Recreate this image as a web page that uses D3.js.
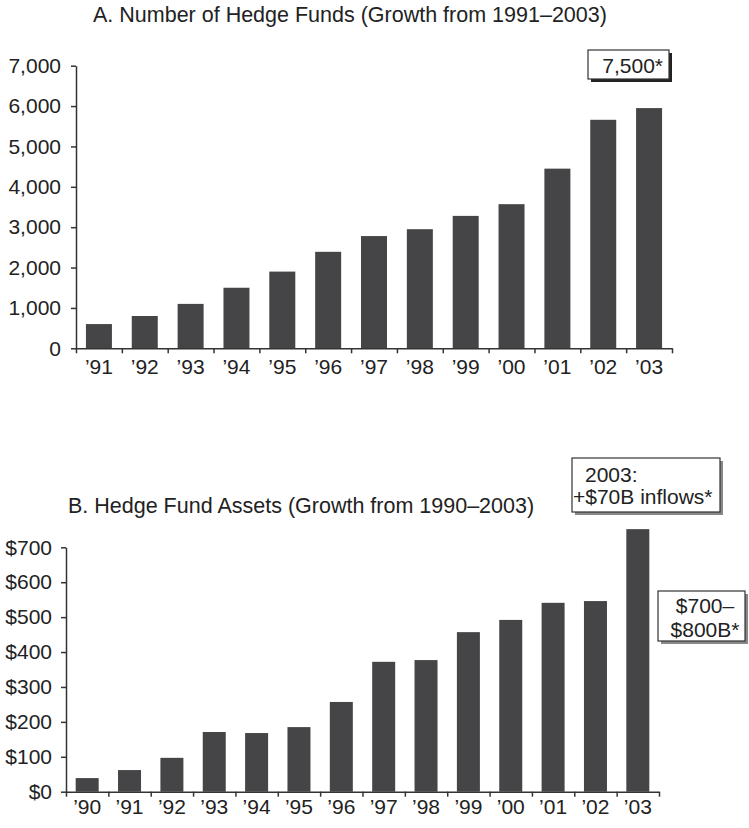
<!DOCTYPE html>
<html><head><meta charset="utf-8">
<script src="https://cdn.jsdelivr.net/npm/d3@7/dist/d3.min.js"></script>
<style>
body{margin:0;background:#fff}
text{font-family:"Liberation Sans",Arial,Helvetica,sans-serif;fill:#222}
</style>
</head><body>
<svg id="c" width="749" height="828"></svg>
<script>
// ---- data ----
const fundYears = ["\u201991","\u201992","\u201993","\u201994","\u201995","\u201996","\u201997","\u201998","\u201999","\u201900","\u201901","\u201902","\u201903"];
const fundCounts = [600, 800, 1100, 1500, 1900, 2390, 2780, 2950, 3280, 3570, 4450, 5660, 5950];
const fundTicks = [0, 1000, 2000, 3000, 4000, 5000, 6000, 7000];

const assetYears = ["\u201990","\u201991","\u201992","\u201993","\u201994","\u201995","\u201996","\u201997","\u201998","\u201999","\u201900","\u201901","\u201902","\u201903"];
const assetValues = [39, 62, 97, 171, 168, 185, 257, 372, 377, 457, 492, 541, 546, 752];
const assetTicks = [0, 100, 200, 300, 400, 500, 600, 700];

const titleA = "A. Number of Hedge Funds (Growth from 1991\u20132003)";
const titleB = "B. Hedge Fund Assets (Growth from 1990\u20132003)";
const noteA = ["7,500*"];
const noteB1 = ["2003:", "+$70B inflows*"];
const noteB2 = ["$700\u2013", "$800B*"];

// ---- drawing ----
const svg = d3.select("#c");
const FS = 21;
const TFS = 21.5;
const BAR = "#454547";
const AX = "#333";

function panel(o) {
  const g = svg.append("g");
  const x = d3.scaleBand().domain(o.years).range([o.x0, o.x1])
    .paddingInner(o.pad).paddingOuter(o.pad / 2);
  const y = d3.scaleLinear().domain([0, o.max]).range([o.yb, o.yt]);

  g.selectAll("rect.bar").data(o.values).join("rect").attr("class", "bar")
    .attr("x", (d, i) => x(o.years[i])).attr("width", x.bandwidth())
    .attr("y", d => y(d)).attr("height", d => y(0) - y(d)).attr("fill", BAR);

  // y axis
  const ya = g.append("g").attr("transform", `translate(${o.x0},0)`)
    .call(d3.axisLeft(y).tickValues(o.ticks).tickSize(5).tickSizeOuter(0).tickFormat(o.fmt));
  ya.select(".domain").attr("stroke", AX).attr("stroke-width", 1.5);
  ya.selectAll(".tick line").attr("stroke", AX).attr("stroke-width", 1.5);
  ya.selectAll(".tick text").attr("x", -o.ylab).attr("font-size", FS)
    .attr("font-family", null).style("fill", "#222");

  // x axis with ticks at category boundaries
  const n = o.years.length;
  const xb = d3.scaleLinear().domain([0, n]).range([o.x0, o.x1]);
  const xa = g.append("g").attr("transform", `translate(0,${o.yb})`)
    .call(d3.axisBottom(xb).tickValues(d3.range(n + 1)).tickSize(5).tickSizeOuter(0).tickFormat(""));
  xa.select(".domain").attr("stroke", AX).attr("stroke-width", 1.5);
  xa.selectAll(".tick line").attr("stroke", AX).attr("stroke-width", 1.5);

  const xl = g.append("g").attr("transform", `translate(0,${o.yb})`)
    .call(d3.axisBottom(x).tickSize(0));
  xl.select(".domain").remove();
  xl.selectAll(".tick text").attr("y", o.xlab).attr("dy", null)
    .attr("font-size", FS).attr("font-family", null).style("fill", "#222");

  g.append("text").attr("x", o.tx).attr("y", o.ty).attr("font-size", TFS).text(o.title);
  return {x, y};
}

function note(lines, bx, by, bw, bh, lx, ly, anchor, shadow) {
  const g = svg.append("g");
  g.append("rect").attr("x", bx + 3).attr("y", by + 3).attr("width", bw).attr("height", bh).attr("fill", shadow);
  g.append("rect").attr("x", bx).attr("y", by).attr("width", bw).attr("height", bh)
    .attr("fill", "#fff").attr("stroke", "#333").attr("stroke-width", 1.2);
  lines.forEach((t, i) => {
    g.append("text").attr("x", lx[i]).attr("y", ly[i]).attr("font-size", FS)
      .attr("text-anchor", anchor).text(t);
  });
}

panel({years: fundYears, values: fundCounts, ticks: fundTicks, max: 7000,
  fmt: d3.format(","), x0: 76, x1: 672, yb: 348.3, yt: 65.7, pad: 0.433,
  ylab: 15, xlab: 26, title: titleA, tx: 93, ty: 22});

panel({years: assetYears, values: assetValues, ticks: assetTicks, max: 700,
  fmt: d => "$" + d, x0: 66, x1: 659, yb: 791.7, yt: 547.3, pad: 0.457,
  ylab: 14, xlab: 22, title: titleB, tx: 68, ty: 513});

note(noteA, 588, 50, 81, 29, [663], [73], "end", "#222");
note(noteB1, 572, 458, 148, 54, [585, 573], [482, 504], "start", "#888");
note(noteB2, 658, 591, 87, 50, [705, 705], [613, 637], "middle", "#888");
</script>
</body></html>
